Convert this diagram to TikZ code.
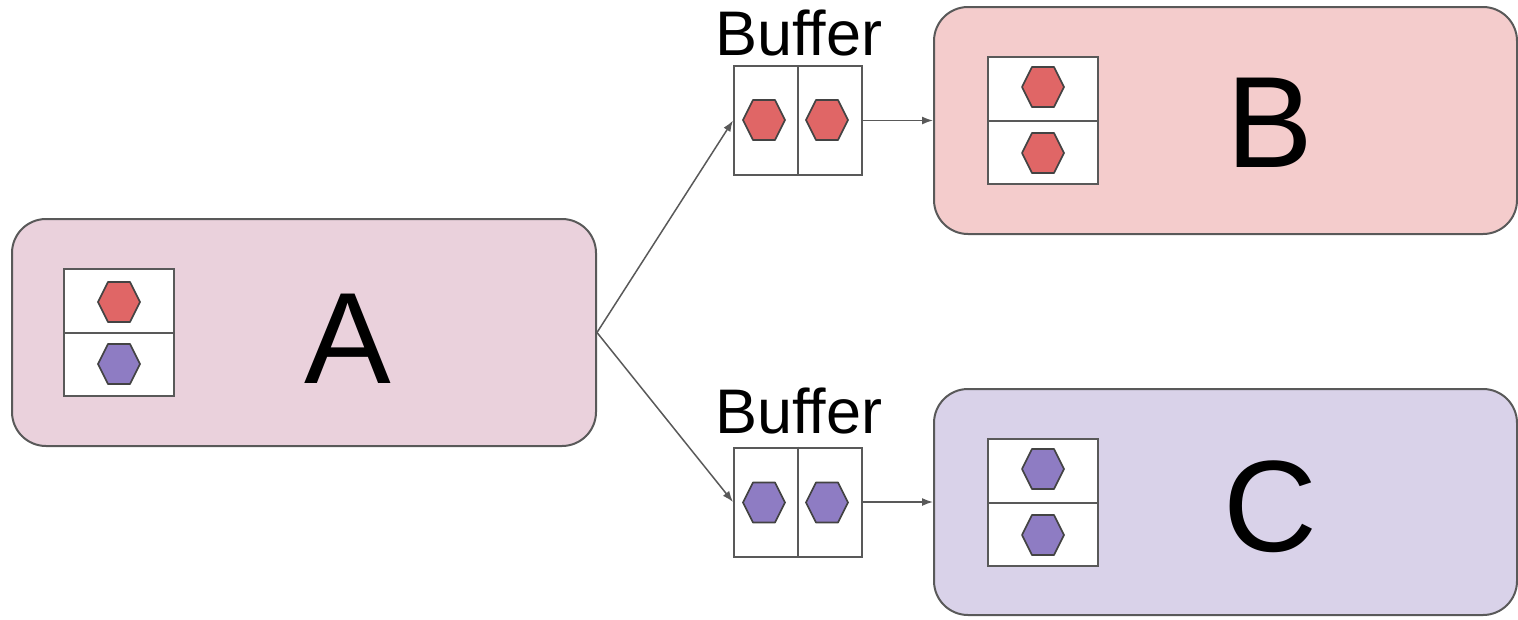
\documentclass[tikz,border=0pt]{standalone}
\usepackage{fontspec}
\setmainfont{Liberation Sans}
\usetikzlibrary{arrows.meta}
\definecolor{edge}{HTML}{595959}
\definecolor{hexedge}{HTML}{434343}
\definecolor{fillA}{HTML}{EAD1DC}
\definecolor{fillB}{HTML}{F4CCCC}
\definecolor{fillC}{HTML}{D9D2E9}
\definecolor{hexred}{HTML}{E06666}
\definecolor{hexpurple}{HTML}{8E7CC3}
\tikzset{
  proc/.style={draw=edge, line width=2pt, rounded corners=34pt, minimum width=584pt, minimum height=227pt, inner sep=0pt},
  cell/.style={draw=edge, fill=white, line width=2pt, inner sep=0pt},
  divline/.style={draw=edge, line width=2pt},
  conn/.style={draw=edge, line width=1.5pt, -{Latex[length=11pt,width=8pt]}},
  big/.style={font=\fontsize{130}{130}\selectfont, inner sep=0pt, anchor=base},
  buflabel/.style={font=\fontsize{63}{63}\selectfont, inner sep=0pt, anchor=base},
  hexr/.style={fill=hexred, draw=hexedge, line width=1.7pt, line join=round},
  hexp/.style={fill=hexpurple, draw=hexedge, line width=1.7pt, line join=round},
}
\newcommand{\hexat}[3]{\draw[#3, shift={(#1,#2)}] (-21,0) -- (-11,-20) -- (11,-20) -- (21,0) -- (11,20) -- (-11,20) -- cycle;}
\begin{document}
\begin{tikzpicture}[x=1pt,y=-1pt]
\useasboundingbox (0,0) rectangle (1518,619);
% process boxes
\node[proc, fill=fillA] (A) at (304,332.5) {};
\node[proc, fill=fillB, minimum width=583pt] (B) at (1225.5,120.5) {};
\node[proc, fill=fillC, minimum width=583pt, minimum height=226pt] (C) at (1225.5,502) {};
% labels
\node[big] (lA) at (348,383) {A};
\node[big] (lB) at (1270,167) {B};
\node[big] (lC) at (1270,551) {C};
% inner tables
\node[cell, minimum width=110pt, minimum height=127pt] (tA) at (119,332.5) {};
\draw[divline] (tA.west) -- (tA.east);
\node[cell, minimum width=110pt, minimum height=127pt] (tB) at (1043,120.5) {};
\draw[divline] (tB.west) -- (tB.east);
\node[cell, minimum width=110pt, minimum height=127pt] (tC) at (1043,502.5) {};
\draw[divline] (tC.west) -- (tC.east);
\hexat{119}{302}{hexr}
\hexat{119}{364}{hexp}
\hexat{1043}{87}{hexr}
\hexat{1043}{153}{hexr}
\hexat{1043}{469}{hexp}
\hexat{1043}{535}{hexp}
% buffers
\node[buflabel] (bl1) at (799,55) {Buffer};
\node[buflabel] (bl2) at (799,433) {Buffer};
\node[cell, minimum width=128pt, minimum height=109pt] (bufB) at (798,120.5) {};
\draw[divline] (bufB.north) -- (bufB.south);
\node[cell, minimum width=128pt, minimum height=109pt] (bufC) at (798,502) {};
\draw[divline] (bufC.north) -- (bufC.south);
\hexat{764}{120}{hexr}
\hexat{827}{120}{hexr}
\hexat{764}{502.5}{hexp}
\hexat{827}{502.5}{hexp}
% connectors
\draw[conn] (A.east) -- (bufB.west);
\draw[conn] (A.east) -- (bufC.west);
\draw[conn] (bufB.east) -- (B.west);
\draw[conn] (bufC.east) -- (C.west);
\end{tikzpicture}
\end{document}
